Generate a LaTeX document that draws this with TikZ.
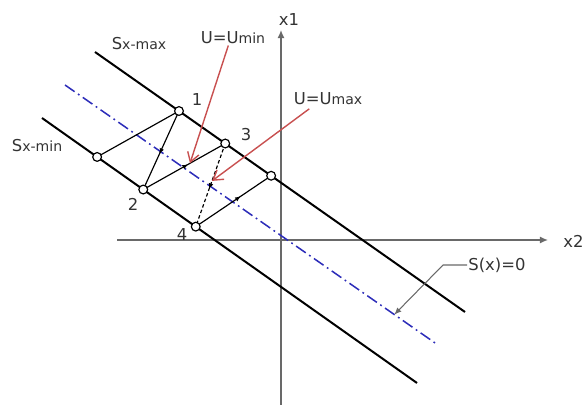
\documentclass[tikz,border=0pt]{standalone}
\usepackage{fontspec}
\setmainfont{DejaVu Sans}
\usetikzlibrary{positioning,arrows.meta,calc,decorations.markings}
\definecolor{axisgray}{RGB}{105,105,105}
\definecolor{ured}{RGB}{200,80,80}
\definecolor{sblue}{RGB}{45,45,185}
\tikzset{
  pt/.style={circle,draw,fill=white,inner sep=0pt,minimum size=7.5pt,line width=1pt},
  bound/.style={line width=1.7pt},
  traj/.style={line width=1pt},
  midarrow/.style={postaction={decorate},decoration={markings,
    mark=at position #1 with {\arrow{Latex[length=5pt,width=4pt]}}}},
  lbl/.style={font=\fontsize{14}{16}\selectfont,text=black!80,inner sep=1pt},
  uarrow/.style={ured,line width=1.2pt,-{Straight Barb[length=8pt,width=10pt]}},
}
\newcommand{\sm}[1]{{\fontsize{12}{14}\selectfont #1}}

\begin{document}
\begin{tikzpicture}[x=0.03cm,y=-0.03cm]
\useasboundingbox (0,0) rectangle (585,405);
% axes
\coordinate (x1foot) at (281,405);
\coordinate (x1tip) at (281,30);
\coordinate (x2foot) at (117,240);
\coordinate (x2tip) at (548,240);
\draw[axisgray,line width=1.1pt,-{Latex[length=7pt,width=6pt]}] (x1foot) -- (x1tip);
\draw[axisgray,line width=1.1pt,-{Latex[length=7pt,width=6pt]}] (x2foot) -- (x2tip);
\node[lbl] (x1) at (289,20) {x1};
\node[lbl,anchor=west] (x2) at (562,241) {x2};

% switching lines and sliding line
\coordinate (smaxa) at (95,52);
\coordinate (smaxb) at (465,312);
\coordinate (smina) at (42,118);
\coordinate (sminb) at (417,383);
\coordinate (sa) at (65,85);
\coordinate (sb) at (438,345);
\draw[bound] (smaxa) -- (smaxb);
\draw[bound] (smina) -- (sminb);
\draw[sblue,line width=1.3pt,dash pattern=on 10pt off 3.5pt on 1.5pt off 3.5pt] (sa) -- (sb);
\node[lbl] (smaxlbl) at (139,44) {S\sm{x-max}};
\node[lbl] (sminlbl) at (37,146) {S\sm{x-min}};

% points of the trajectory
\coordinate (c0) at ($(smina)!0.147!(sminb)$);
\coordinate (c1) at ($(smaxa)!0.227!(smaxb)$);
\coordinate (c2) at ($(smina)!0.270!(sminb)$);
\coordinate (c3) at ($(smaxa)!0.352!(smaxb)$);
\coordinate (c4) at ($(smina)!0.410!(sminb)$);
\coordinate (c5) at ($(smaxa)!0.476!(smaxb)$);

% trajectory
\draw[traj] (c0) -- (c1);
\draw[traj,midarrow=0.55] (c1) -- (c2);
\draw[traj,midarrow=0.55] (c2) -- (c3);
\draw[traj,densely dashed,midarrow=0.55] (c3) -- (c4);
\draw[traj,midarrow=0.6] (c4) -- (c5);
\foreach \p in {c0,c1,c2,c3,c4,c5}
  \node[pt] (n\p) at (\p) {};
\node[lbl] (l1) at (197,100) {1};
\node[lbl] (l2) at (133,204) {2};
\node[lbl] (l3) at (246,135) {3};
\node[lbl] (l4) at (182,235) {4};

% control labels
\node[lbl] (umin) at (233,38) {U=U\sm{min}};
\node[lbl] (umax) at (328,99) {U=U\sm{max}};
\coordinate (umintip) at ($(c2)!0.57!(c3)$);
\coordinate (umaxtip) at ($(c3)!0.45!(c4)$);
\draw[uarrow] ([xshift=-4pt]umin.south) -- (umintip);
\draw[uarrow] ([xshift=-16pt,yshift=-2pt]umax.south) -- (umaxtip);

% sliding surface label
\node[lbl,anchor=west] (slbl) at (467,265) {S(x)=0};
\coordinate (sknee) at (443,265);
\coordinate (stip) at ($(sa)!0.883!(sb)$);
\draw[axisgray,line width=0.9pt,-{Latex[length=6pt,width=5pt]}] (slbl.west) -- (sknee) -- (stip);
\end{tikzpicture}
\end{document}
